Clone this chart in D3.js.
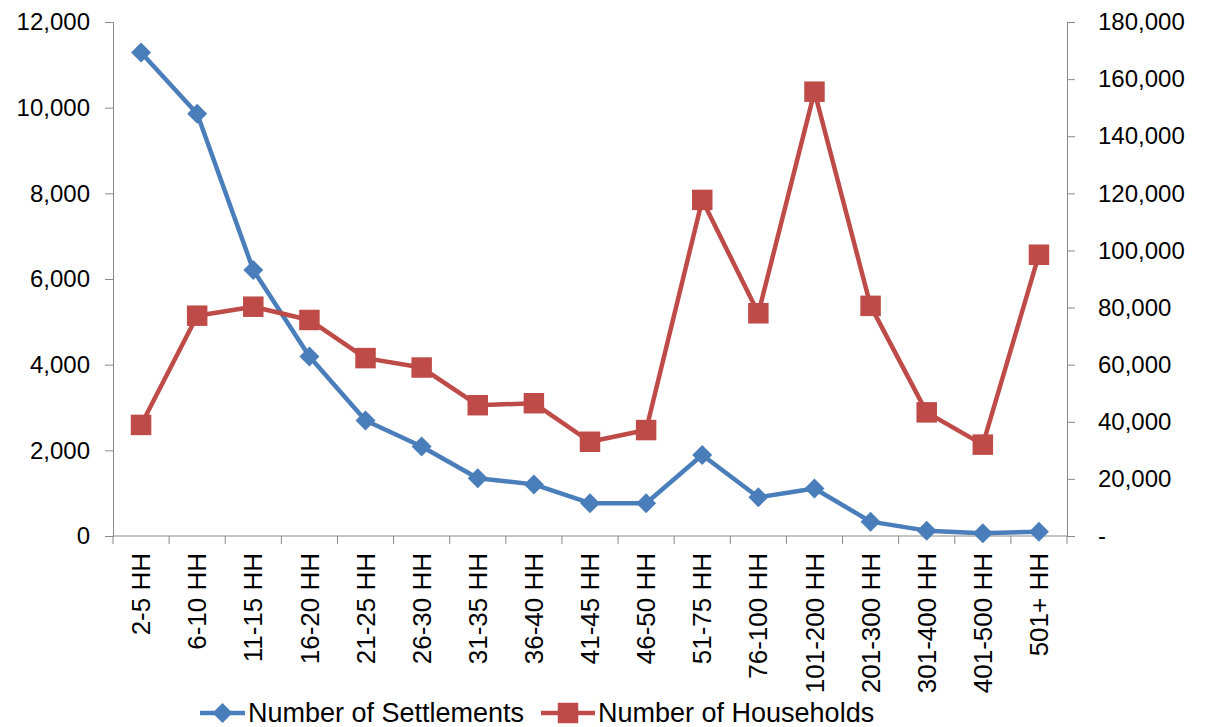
<!DOCTYPE html>
<html>
<head>
<meta charset="utf-8">
<script src="https://cdn.jsdelivr.net/npm/d3@7"></script>
<style>
  body { margin: 0; background: #fff; }
  svg text { font-family: "Liberation Sans", Arial, sans-serif; fill: #000; }
</style>
</head>
<body>
<svg id="chart"></svg>
<script>
// data
const categories = ['2-5 HH', '6-10 HH', '11-15 HH', '16-20 HH', '21-25 HH', '26-30 HH',
  '31-35 HH', '36-40 HH', '41-45 HH', '46-50 HH', '51-75 HH', '76-100 HH',
  '101-200 HH', '201-300 HH', '301-400 HH', '401-500 HH', '501+ HH'];
const settlements = [11290, 9860, 6210, 4190, 2695, 2090, 1350, 1205, 765, 765,
  1890, 905, 1110, 335, 125, 65, 100];
const households = [38900, 77150, 80300, 75650, 62300, 59000, 45800, 46500, 33000, 37100,
  117700, 78000, 155600, 80600, 43300, 32000, 98500];
const leftTicks = [0, 2000, 4000, 6000, 8000, 10000, 12000];
const rightTicks = [0, 20000, 40000, 60000, 80000, 100000, 120000, 140000, 160000, 180000];
const seriesNames = ['Number of Settlements', 'Number of Households'];

const W = 1205, H = 727;
const margin = { top: 22, right: 138, bottom: 191, left: 113 };
const width = W - margin.left - margin.right;
const height = H - margin.top - margin.bottom;
const blue = '#4A7EBB', red = '#BE4B48', axisCol = '#898989';

const svg = d3.select('#chart').attr('width', W).attr('height', H);
const g = svg.append('g').attr('transform', `translate(${margin.left},${margin.top})`);

const x = d3.scaleBand().domain(categories).range([0, width]).padding(0);
const yL = d3.scaleLinear().domain([0, 12000]).range([height, 0]);
const yR = d3.scaleLinear().domain([0, 180000]).range([height, 0]);
const cx = d => x(d) + x.bandwidth() / 2;

// left axis
const left = g.append('g')
  .call(d3.axisLeft(yL).tickValues(leftTicks).tickSize(8).tickPadding(15).tickFormat(d3.format(',')));
left.selectAll('text').style('font-size', '24px');

// right axis
const right = g.append('g').attr('transform', `translate(${width},0)`)
  .call(d3.axisRight(yR).tickValues(rightTicks).tickSize(8).tickPadding(23)
    .tickFormat(d => d === 0 ? '-' : d3.format(',')(d)));
right.selectAll('text').style('font-size', '24px');

// bottom axis, ticks on band edges
const bottom = g.append('g').attr('transform', `translate(0,${height})`);
bottom.append('line').attr('x1', 0).attr('x2', width).attr('stroke', axisCol);
bottom.selectAll('line.tk')
  .data(d3.range(categories.length + 1))
  .enter().append('line').attr('class', 'tk')
  .attr('x1', i => i * x.step()).attr('x2', i => i * x.step())
  .attr('y1', 0).attr('y2', 8).attr('stroke', axisCol);
bottom.selectAll('text')
  .data(categories)
  .enter().append('text')
  .attr('transform', d => `translate(${cx(d)},17) rotate(-90)`)
  .attr('text-anchor', 'end')
  .attr('dy', '0.35em')
  .style('font-size', '26px')
  .text(d => d);

[left, right].forEach(a => {
  a.select('.domain').attr('stroke', axisCol);
  a.selectAll('.tick line').attr('stroke', axisCol);
});

// lines
const lineL = d3.line().x((d, i) => cx(categories[i])).y(d => yL(d));
const lineR = d3.line().x((d, i) => cx(categories[i])).y(d => yR(d));

g.append('path').datum(settlements).attr('d', lineL)
  .attr('fill', 'none').attr('stroke', blue).attr('stroke-width', 4.5).attr('stroke-linejoin', 'round');
g.append('path').datum(households).attr('d', lineR)
  .attr('fill', 'none').attr('stroke', red).attr('stroke-width', 4.5).attr('stroke-linejoin', 'round');

const diamond = d3.symbol().type(d3.symbolSquare).size(200);
const square = d3.symbol().type(d3.symbolSquare).size(420);

g.selectAll('path.dia').data(settlements).enter().append('path').attr('class', 'dia')
  .attr('d', diamond)
  .attr('transform', (d, i) => `translate(${cx(categories[i])},${yL(d)}) rotate(45)`)
  .attr('fill', blue);
g.selectAll('path.sq').data(households).enter().append('path').attr('class', 'sq')
  .attr('d', square)
  .attr('transform', (d, i) => `translate(${cx(categories[i])},${yR(d)})`)
  .attr('fill', red);

// legend
const legendY = 713;
const legendItems = [
  { name: seriesNames[0], color: blue, x0: 200, x1: 245, mark: diamond, rot: 45 },
  { name: seriesNames[1], color: red, x0: 541, x1: 595, mark: square, rot: 0 }
];
const lg = svg.append('g');
legendItems.forEach(it => {
  lg.append('line').attr('x1', it.x0).attr('x2', it.x1).attr('y1', legendY).attr('y2', legendY)
    .attr('stroke', it.color).attr('stroke-width', 4.5);
  lg.append('path').attr('d', it.mark)
    .attr('transform', `translate(${(it.x0 + it.x1) / 2},${legendY}) rotate(${it.rot})`)
    .attr('fill', it.color);
  lg.append('text').attr('x', it.x1 + 3).attr('y', legendY).attr('dy', '0.35em')
    .style('font-size', '27px').text(it.name);
});
</script>
</body>
</html>
